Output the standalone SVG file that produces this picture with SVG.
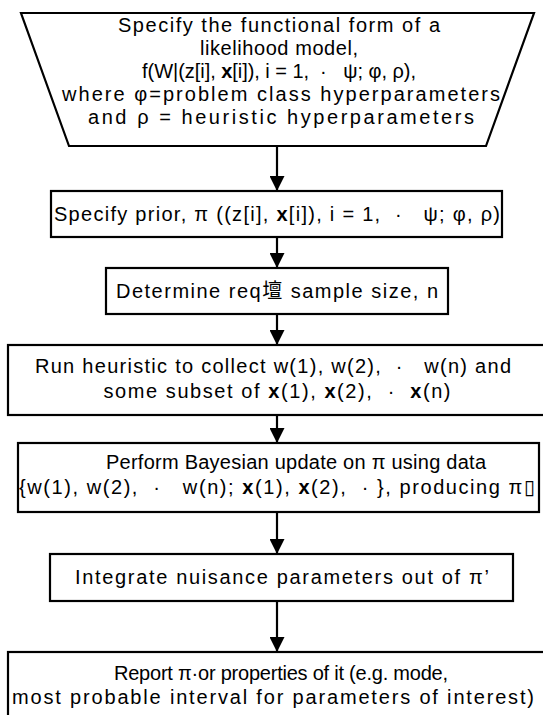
<svg xmlns="http://www.w3.org/2000/svg" width="543" height="715" viewBox="0 0 543 715">
<style>
.shape{fill:#fff;stroke:#000;stroke-width:2.2}
.t{font-family:"Liberation Sans",Arial,"Noto Sans CJK JP","DejaVu Sans",sans-serif;font-size:20px;fill:#000;text-anchor:middle}
.b{font-weight:bold}
.edge{stroke:#000;stroke-width:2.2;fill:none;marker-end:url(#ah)}
</style>
<defs>
<marker id="ah" viewBox="0 0 16 16" refX="16" refY="8" markerWidth="15" markerHeight="15" markerUnits="userSpaceOnUse" orient="auto">
<path d="M0,0 L16,8 L0,16 z" fill="#000"/>
</marker>
</defs>
<rect width="543" height="715" fill="#fff"/>
<g id="connectors">
<line class="edge" x1="277" y1="146" x2="277" y2="191"/>
<line class="edge" x1="277" y1="237" x2="277" y2="268"/>
<line class="edge" x1="277" y1="314" x2="277" y2="345"/>
<line class="edge" x1="277" y1="415" x2="277" y2="443"/>
<line class="edge" x1="277" y1="512" x2="277" y2="554"/>
<line class="edge" x1="277" y1="601" x2="277" y2="652"/>
</g>
<g id="n1">
<polygon class="shape" points="21,13 534,13 486,146 69,146"/>
<text class="t" x="279" y="32" textLength="322" lengthAdjust="spacing">Specify the functional form of a</text>
<text class="t" x="279" y="55" textLength="158" lengthAdjust="spacing">likelihood model,</text>
<text class="t" x="279" y="78" textLength="274" lengthAdjust="spacing">f(W|(z[i], <tspan class="b">x</tspan>[i]), i = 1, &#160;·&#160;&#160; ψ; φ, ρ),</text>
<text class="t" x="281" y="101" textLength="438" lengthAdjust="spacing">where φ=problem class hyperparameters</text>
<text class="t" x="281" y="124" textLength="386" lengthAdjust="spacing">and ρ = heuristic hyperparameters</text>
</g>
<g id="n2">
<rect class="shape" x="51" y="191" width="451" height="46"/>
<text class="t" x="277" y="221" textLength="446" lengthAdjust="spacing">Specify prior, π ((z[i], <tspan class="b">x</tspan>[i]), i = 1, &#160;·&#160;&#160; ψ; φ, ρ)</text>
</g>
<g id="n3">
<rect class="shape" x="106" y="268" width="342" height="46"/>
<text class="t" x="277" y="298" textLength="322" lengthAdjust="spacing">Determine req壇 sample size, n</text>
</g>
<g id="n4">
<rect class="shape" x="8" y="345" width="545" height="70"/>
<text class="t" x="273" y="373" textLength="476" lengthAdjust="spacing">Run heuristic to collect w(1), w(2), &#160;·&#160;&#160; w(n) and</text>
<text class="t" x="277" y="398" textLength="347" lengthAdjust="spacing">some subset of <tspan class="b">x</tspan>(1), <tspan class="b">x</tspan>(2), &#160;·&#160; <tspan class="b">x</tspan>(n)</text>
</g>
<g id="n5">
<rect class="shape" x="18" y="443" width="521" height="69"/>
<text class="t" x="296" y="469" textLength="380" lengthAdjust="spacing">Perform Bayesian update on π using data</text>
<text class="t" x="277" y="494" textLength="516" lengthAdjust="spacing">{w(1), w(2), &#160;·&#160;&#160; w(n); <tspan class="b">x</tspan>(1), <tspan class="b">x</tspan>(2), &#160;·&#160;}, producing π▯</text>
</g>
<g id="n6">
<rect class="shape" x="50" y="554" width="463" height="47"/>
<text class="t" x="282" y="584" textLength="414" lengthAdjust="spacing">Integrate nuisance parameters out of π’</text>
</g>
<g id="n7">
<rect class="shape" x="8" y="652" width="545" height="75"/>
<text class="t" x="281" y="680" textLength="334" lengthAdjust="spacing">Report π·or properties of it (e.g. mode,</text>
<text class="t" x="273" y="704" textLength="522" lengthAdjust="spacing">most probable interval for parameters of interest)</text>
</g>
</svg>
